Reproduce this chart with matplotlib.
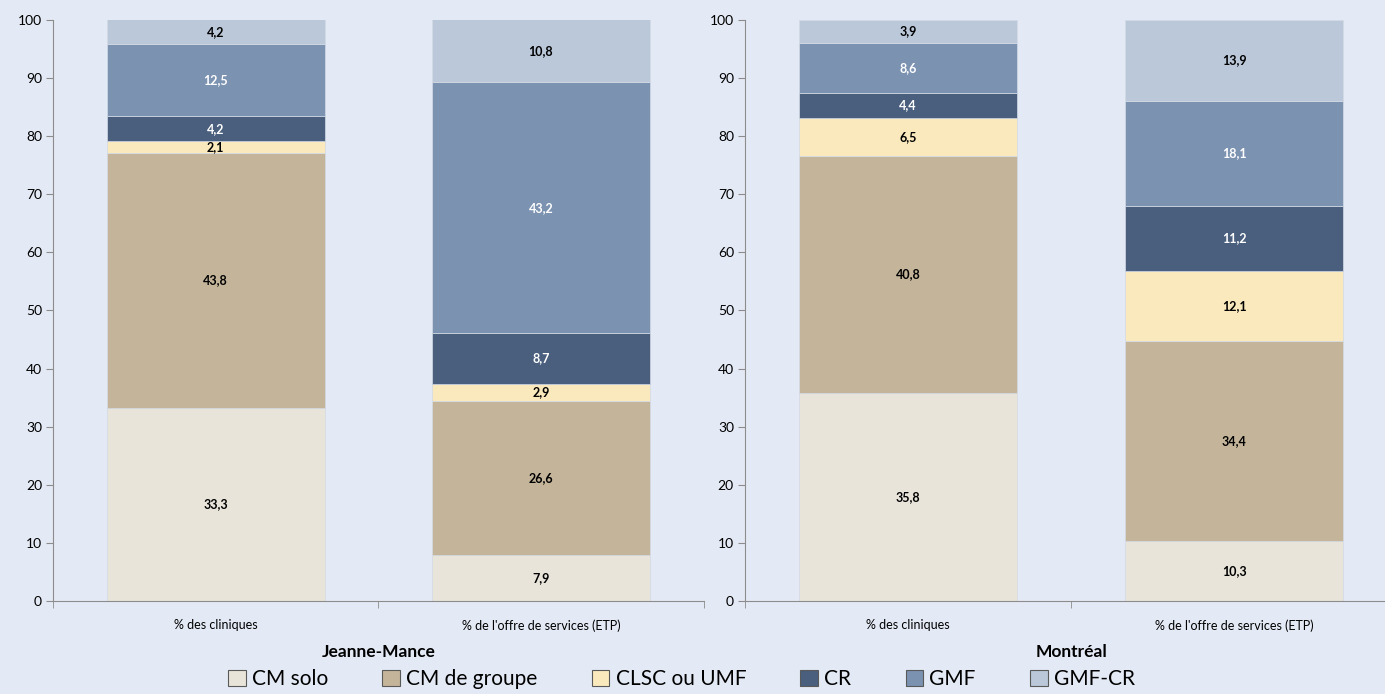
import matplotlib.pyplot as plt
from matplotlib.patches import Patch
import numpy as np

plt.rcParams['font.family'] = ['Lato', 'DejaVu Sans']

# Données
categories = ["% des cliniques", "% de l'offre de services (ETP)"]
types = ['CM solo', 'CM de groupe', 'CLSC ou UMF', 'CR', 'GMF', 'GMF-CR']
jeanne_mance = [
    [33.3, 43.8, 2.1, 4.2, 12.5, 4.2],
    [7.9, 26.6, 2.9, 8.7, 43.2, 10.8],
]
montreal = [
    [35.8, 40.8, 6.5, 4.4, 8.6, 3.9],
    [10.3, 34.4, 12.1, 11.2, 18.1, 13.9],
]
panel_titles = ['Jeanne-Mance', 'Montréal']

colors = ['#E8E4DA', '#C4B59A', '#FAE9BC', '#4A5F7E', '#7B92B1', '#BAC8D9']
text_colors = ['black', 'black', 'black', 'white', 'white', 'black']
bg = '#E4EAF5'

fig = plt.figure(figsize=(13.85, 6.94), dpi=100, facecolor=bg)
ax1 = fig.add_axes([0.0383, 0.134, 0.4697, 0.8372])
ax2 = fig.add_axes([0.5379, 0.134, 0.4708, 0.8372])

for ax, data, title in zip([ax1, ax2], [jeanne_mance, montreal], panel_titles):
    ax.set_facecolor(bg)
    x = np.arange(len(categories))
    for j, name in enumerate(types):
        vals = np.array([d[j] for d in data])
        bottoms = np.array([sum(d[:j]) for d in data])
        ax.bar(x, vals, bottom=bottoms, width=0.67, color=colors[j],
               edgecolor='#D3DAE5', linewidth=0.5)
        for xi, v, b in zip(x, vals, bottoms):
            ax.text(xi, b + v / 2, f'{v:.1f}'.replace('.', ','),
                    ha='center', va='center', fontsize=9,
                    fontweight='bold', color=text_colors[j])
    ax.set_xlim(-0.5, 1.5)
    ax.set_ylim(0, 100)
    ax.set_yticks(range(0, 101, 10))
    ax.tick_params(axis='y', labelsize=10, length=5, color='#8C8C8C', pad=3)
    ax.set_xticks(x)
    ax.set_xticklabels(categories, fontsize=9)
    ax.set_xticks([-0.5, 0.5, 1.5], minor=True)
    ax.tick_params(axis='x', which='major', length=0, pad=13)
    ax.tick_params(axis='x', which='minor', length=5, color='#8C8C8C')
    for s in ['top', 'right']:
        ax.spines[s].set_visible(False)
    for s in ['left', 'bottom']:
        ax.spines[s].set_color('#8C8C8C')
    ax.set_xlabel(title, fontsize=12.5, fontweight='bold', labelpad=9)

# Titre (coupé en haut dans l'original)
fig.text(0.013, 1.014, 'Répartition des types de pratique selon le regroupement',
         ha='left', va='baseline', fontsize=18, fontweight='bold')

handles = [Patch(facecolor=c, edgecolor='#595959', linewidth=0.8) for c in colors]
fig.legend(handles, types, loc='lower center', bbox_to_anchor=(0.492, -0.02),
           ncol=6, frameon=False, fontsize=15, handlelength=0.85,
           handleheight=0.85, handletextpad=0.3, columnspacing=2.6)

plt.savefig('out.png', dpi=100, facecolor=bg)
